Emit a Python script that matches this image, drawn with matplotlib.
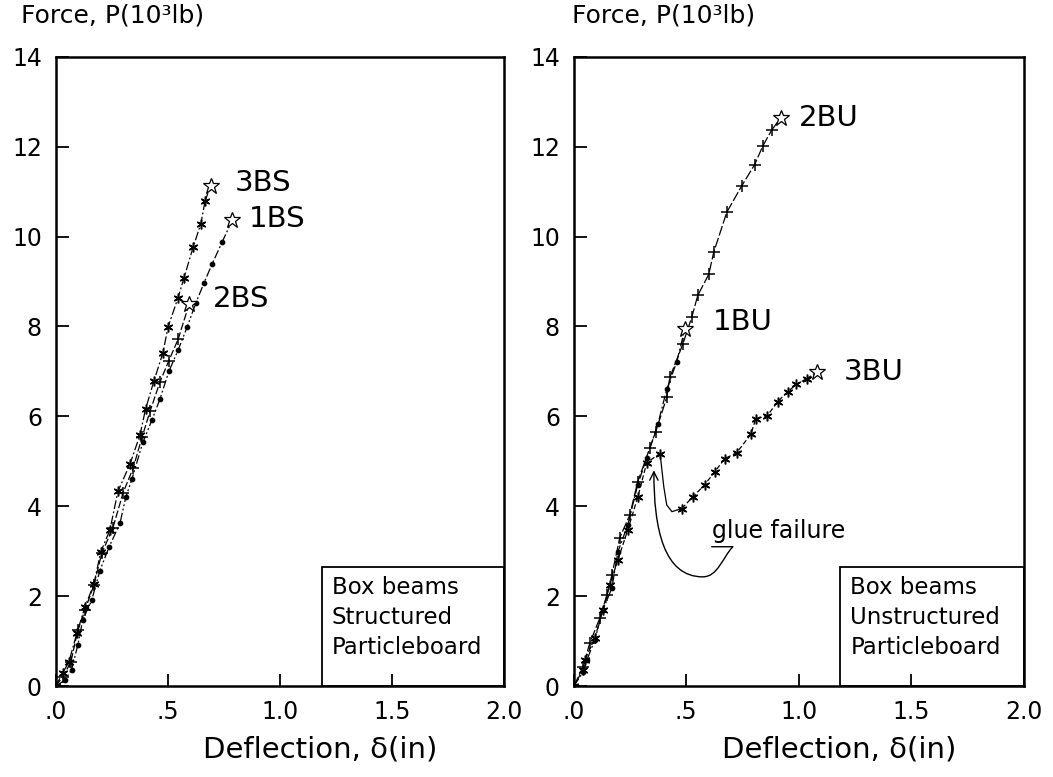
import matplotlib.pyplot as plt
from matplotlib.path import Path
from matplotlib.patches import FancyArrowPatch, Rectangle

plt.rcParams['font.family'] = ['DejaVu Sans']

# ---- left panel: structured particleboard
bs3_x = [0, 0.03, 0.058, 0.094, 0.13, 0.17, 0.20, 0.241, 0.277, 0.33, 0.375,
         0.40, 0.437, 0.478, 0.50, 0.545, 0.571, 0.612, 0.647, 0.665, 0.69]
bs3_y = [0, 0.29, 0.53, 1.18, 1.76, 2.27, 2.98, 3.47, 4.33, 4.93, 5.58,
         6.16, 6.78, 7.42, 7.98, 8.64, 9.07, 9.76, 10.29, 10.78, 11.13]

bs1_x = [0, 0.04, 0.07, 0.098, 0.12, 0.16, 0.196, 0.237, 0.286, 0.312, 0.339,
         0.388, 0.428, 0.464, 0.504, 0.545, 0.585, 0.625, 0.66, 0.696, 0.741, 0.786]
bs1_y = [0, 0.13, 0.36, 0.91, 1.47, 1.91, 2.56, 3.09, 3.62, 4.2, 4.6,
         5.42, 5.91, 6.38, 7.0, 7.47, 7.98, 8.53, 8.96, 9.38, 9.87, 10.36]

bs2_x = [0, 0.03, 0.067, 0.098, 0.13, 0.17, 0.205, 0.254, 0.30, 0.345, 0.384,
         0.42, 0.464, 0.504, 0.545, 0.594]
bs2_y = [0, 0.2, 0.53, 1.24, 1.69, 2.25, 2.96, 3.51, 4.3, 4.85, 5.53,
         6.11, 6.76, 7.24, 7.71, 8.49]

# ---- right panel: unstructured particleboard
bu2_x = [0, 0.04, 0.071, 0.116, 0.147, 0.169, 0.204, 0.249, 0.284, 0.338, 0.364,
         0.413, 0.427, 0.484, 0.524, 0.551, 0.60, 0.622, 0.68, 0.747, 0.804,
         0.84, 0.88, 0.92]
bu2_y = [0, 0.42, 0.96, 1.52, 2.03, 2.47, 3.3, 3.81, 4.55, 5.3, 5.66,
         6.42, 6.87, 7.6, 8.2, 8.69, 9.16, 9.65, 10.54, 11.13, 11.6,
         12.01, 12.37, 12.64]

bu1_x = [0, 0.04, 0.058, 0.093, 0.129, 0.169, 0.196, 0.24, 0.284, 0.324, 0.373,
         0.413, 0.458, 0.493]
bu1_y = [0, 0.31, 0.58, 1.03, 1.69, 2.18, 2.99, 3.59, 4.48, 5.08, 5.82,
         6.6, 7.22, 7.94]

bu3a_x = [0, 0.04, 0.049, 0.093, 0.129, 0.16, 0.196, 0.24, 0.284, 0.324, 0.382]
bu3a_y = [0, 0.36, 0.58, 1.07, 1.69, 2.25, 2.81, 3.48, 4.2, 4.97, 5.17]
bu3_drop_x = [0.385, 0.40, 0.413, 0.436, 0.48]
bu3_drop_y = [5.1, 4.43, 4.03, 3.88, 3.95]
bu3b_x = [0.48, 0.529, 0.582, 0.627, 0.671, 0.724, 0.787, 0.809, 0.858,
          0.907, 0.951, 0.99, 1.036, 1.08]
bu3b_y = [3.95, 4.21, 4.48, 4.77, 5.06, 5.19, 5.6, 5.95, 6.0,
          6.33, 6.55, 6.71, 6.84, 6.98]

x_ticks = [0, 0.5, 1.0, 1.5, 2.0]
x_ticklabels = ['.0', '.5', '1.0', '1.5', '2.0']
y_ticks = [0, 2, 4, 6, 8, 10, 12, 14]

ASTER = (6, 2, 0)


def curve(ax, x, y, marker, ls, ms=7):
    ax.plot(x[:-1], y[:-1], color='black', lw=0.9, linestyle=ls,
            marker=marker, ms=ms, mew=1.1, mfc='black', mec='black')
    ax.plot(x[-2:], y[-2:], color='black', lw=0.9, linestyle=ls)
    ax.plot(x[-1], y[-1], marker='*', ms=12, mfc='white', mec='black', mew=0.9)


def setup(ax, box_lines, title_x):
    ax.set_xlim(0, 2.0)
    ax.set_ylim(0, 14)
    ax.set_xticks(x_ticks)
    ax.set_xticklabels(x_ticklabels)
    ax.set_yticks(y_ticks)
    ax.tick_params(direction='in', length=9, width=1.3, labelsize=17, pad=10)
    for s in ax.spines.values():
        s.set_linewidth(1.8)
    ax.text(title_x, 1.065, 'Force, P(10³lb)', transform=ax.transAxes,
            fontsize=18, va='center', ha='left')
    ax.text(0.59, -0.10, 'Deflection, δ(in)', transform=ax.transAxes,
            fontsize=21, ha='center', va='center')
    ax.add_patch(Rectangle((1.185, 0), 0.815, 2.65, fill=False, lw=1.3,
                           ec='black', zorder=3))
    for i, t in enumerate(box_lines):
        ax.text(1.23, 2.2 - i * 0.67, t, fontsize=16.5, va='center', ha='left')


fig = plt.figure(figsize=(10.53, 7.77), dpi=100)
ax1 = fig.add_axes([0.053, 0.117, 0.426, 0.81])
ax2 = fig.add_axes([0.545, 0.117, 0.427, 0.81])

# left
curve(ax1, bs3_x, bs3_y, ASTER, (0, (7, 2, 1.5, 2)))
curve(ax1, bs1_x, bs1_y, 'o', (0, (7, 2, 1.5, 2, 1.5, 2)), ms=3)
curve(ax1, bs2_x, bs2_y, '+', (0, (6, 2)), ms=9)
setup(ax1, ['Box beams', 'Structured', 'Particleboard'], -0.077)
ax1.text(0.80, 11.2, '3BS', fontsize=21, va='center')
ax1.text(0.86, 10.4, '1BS', fontsize=21, va='center')
ax1.text(0.70, 8.6, '2BS', fontsize=21, va='center')

# right
curve(ax2, bu2_x, bu2_y, '+', (0, (8, 2)), ms=9)
curve(ax2, bu1_x, bu1_y, 'o', (0, (7, 2, 1.5, 2)), ms=3)
ax2.plot(bu3a_x, bu3a_y, color='black', lw=0.9, linestyle=(0, (4, 2)),
         marker=ASTER, ms=7, mew=1.1)
ax2.plot(bu3_drop_x, bu3_drop_y, color='black', lw=0.9)
curve(ax2, bu3b_x, bu3b_y, ASTER, (0, (4, 2)))
setup(ax2, ['Box beams', 'Unstructured', 'Particleboard'], -0.005)
ax2.text(1.0, 12.64, '2BU', fontsize=21, va='center')
ax2.text(0.62, 8.1, '1BU', fontsize=21, va='center')
ax2.text(1.20, 6.98, '3BU', fontsize=21, va='center')

# glue failure note and leader
ax2.text(0.613, 3.45, 'glue failure', fontsize=17, va='center', ha='left')
leader = Path([(0.613, 3.1), (0.707, 3.1),
               (0.66, 2.85), (0.64, 2.43), (0.573, 2.43),
               (0.40, 2.43), (0.355, 3.5), (0.356, 4.8)],
              [Path.MOVETO, Path.LINETO,
               Path.CURVE4, Path.CURVE4, Path.CURVE4,
               Path.CURVE4, Path.CURVE4, Path.CURVE4])
ax2.add_patch(FancyArrowPatch(path=leader, arrowstyle='->,head_length=6,head_width=3',
                              color='black', lw=1.0))

plt.savefig('out.png', dpi=100)
